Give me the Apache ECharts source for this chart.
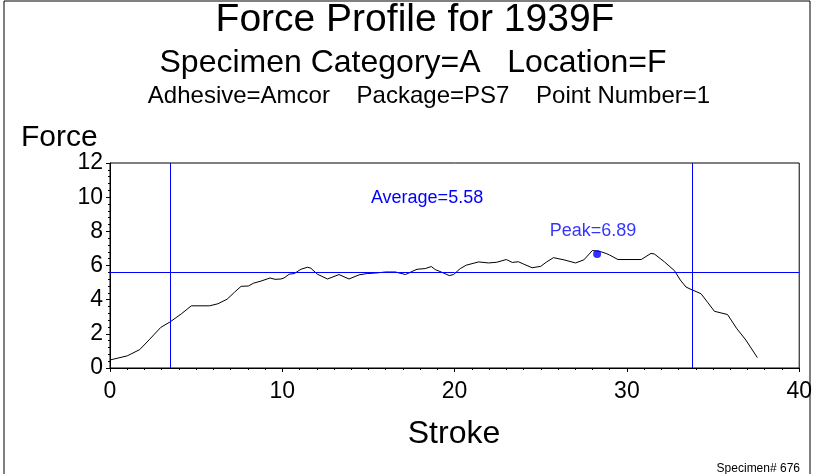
<!DOCTYPE html>
<html>
<head>
<meta charset="utf-8">
<title>Force Profile for 1939F</title>
<script src="https://cdn.jsdelivr.net/npm/echarts@6/dist/echarts.min.js"></script>
<style>
  html, body { margin: 0; padding: 0; background: #fff; }
  #chart { width: 815px; height: 474px; }
</style>
</head>
<body>
<div id="chart"></div>
<script>
// stroke / force trace
const strokeValues = [0, 1.0, 1.73, 2.31, 2.95, 3.49, 4.14, 4.72, 5.78, 6.26,
  6.8, 7.23, 7.61, 8.03, 8.34, 8.77, 9.29, 9.58, 9.92, 10.1,
  10.4, 10.7, 11.08, 11.46, 11.66, 12.04, 12.62, 13.29, 13.87, 14.45,
  14.93, 15.41, 16.0, 16.57, 17.15, 17.53, 17.82, 18.3, 18.65, 18.88,
  19.27, 19.69, 19.94, 20.33, 20.68, 21.39, 21.97, 22.45, 23.0, 23.35,
  23.7, 23.99, 24.5, 25.0, 25.34, 25.74, 26.35, 27.02, 27.5, 28.0,
  28.51, 28.8, 29.0, 29.48, 30.83, 31.4, 31.6, 32.18, 32.76, 33.1,
  33.43, 33.72, 34.3, 34.68, 35.08, 35.84, 36.36, 36.9, 37.57]
const forceValues = [0.47, 0.71, 1.08, 1.69, 2.38, 2.70, 3.17, 3.64, 3.64, 3.76,
  4.03, 4.44, 4.78, 4.80, 4.97, 5.09, 5.27, 5.19, 5.21, 5.27,
  5.49, 5.53, 5.78, 5.90, 5.84, 5.49, 5.21, 5.47, 5.21, 5.45,
  5.53, 5.56, 5.62, 5.62, 5.47, 5.65, 5.78, 5.82, 5.94, 5.76,
  5.60, 5.41, 5.47, 5.82, 6.02, 6.21, 6.15, 6.19, 6.35, 6.18,
  6.22, 6.09, 5.87, 5.95, 6.21, 6.46, 6.33, 6.15, 6.33, 6.88,
  6.80, 6.70, 6.61, 6.35, 6.35, 6.71, 6.67, 6.21, 5.70, 5.15,
  4.74, 4.60, 4.35, 3.85, 3.32, 3.13, 2.33, 1.64, 0.61]

// reference lines: start / end of averaging window, average force
const windowStrokes = [3.51, 33.8]
const averageForce = 5.58
const peakPoint = [28.27, 6.67]
const peakLabel = 'Peak=6.89'
const averageLabel = 'Average=5.58'
const averageLabelAt = [18.4, 9.97]

const xTicks = [0, 10, 20, 30, 40]
const yTicks = [0, 2, 4, 6, 8, 10, 12]

const FONT = "'Liberation Sans', Arial, sans-serif"
const BLUE = '#0000ff'

const chart = echarts.init(document.getElementById('chart'))

const blueLine = { color: BLUE, width: 1, type: 'solid' }

chart.setOption({
  animation: false,
  backgroundColor: '#fff',
  textStyle: { fontFamily: FONT },
  grid: {
    left: 110, right: 13, top: 163, bottom: 106,
    show: true, borderColor: '#000', borderWidth: 1
  },
  graphic: [
    // outer frame
    { type: 'rect', shape: { x: 4, y: 1, width: 806, height: 480 },
      style: { fill: 'none', stroke: '#000', lineWidth: 1 }, silent: true },
    { type: 'text', x: 415, y: 20,
      style: { text: 'Force Profile for 1939F', font: '39px ' + FONT, fill: '#000',
        align: 'center', verticalAlign: 'middle' } },
    { type: 'text', x: 413, y: 63,
      style: { text: 'Specimen Category=A   Location=F', font: '32px ' + FONT, fill: '#000',
        align: 'center', verticalAlign: 'middle' } },
    { type: 'text', x: 429, y: 96,
      style: { text: 'Adhesive=Amcor    Package=PS7    Point Number=1', font: '24px ' + FONT, fill: '#000',
        align: 'center', verticalAlign: 'middle' } },
    { type: 'text', x: 21, y: 138,
      style: { text: 'Force', font: '30px ' + FONT, fill: '#000', verticalAlign: 'middle' } },
    { type: 'text', x: 454, y: 434,
      style: { text: 'Stroke', font: '32px ' + FONT, fill: '#000', align: 'center', verticalAlign: 'middle' } },
    { type: 'text', x: 800, y: 469,
      style: { text: 'Specimen# 676', font: '12px ' + FONT, fill: '#000', align: 'right', verticalAlign: 'middle' } }
  ],
  xAxis: {
    type: 'value', min: 0, max: 40, interval: 10,
    axisLine: { show: true, lineStyle: { color: '#000', width: 1 } },
    axisTick: { show: true, length: 4, inside: false, lineStyle: { color: '#000' },
      customValues: xTicks },
    minorTick: { show: true, splitNumber: 10, length: 2, lineStyle: { color: '#000' } },
    axisLabel: { color: '#000', fontSize: 23, margin: 12, fontFamily: FONT, customValues: xTicks },
    splitLine: { show: false }
  },
  yAxis: {
    type: 'value', min: 0, max: 12, interval: 2,
    axisLine: { show: true, lineStyle: { color: '#000', width: 1 } },
    axisTick: { show: true, length: 4, lineStyle: { color: '#000' }, customValues: yTicks },
    minorTick: { show: true, splitNumber: 5, length: 2, lineStyle: { color: '#000' } },
    axisLabel: { color: '#000', fontSize: 23, margin: 7, fontFamily: FONT, customValues: yTicks },
    splitLine: { show: false }
  },
  series: [
    {
      name: 'Force',
      type: 'line',
      data: strokeValues.map((s, i) => [s, forceValues[i]]),
      showSymbol: false,
      symbol: 'none',
      lineStyle: { color: '#000', width: 1 },
      z: 3,
      markLine: {
        silent: true,
        symbol: 'none',
        label: { show: false },
        lineStyle: blueLine,
        data: [
          { xAxis: windowStrokes[0], lineStyle: blueLine },
          { xAxis: windowStrokes[1], lineStyle: blueLine },
          { yAxis: averageForce, lineStyle: blueLine }
        ]
      },
      markPoint: {
        silent: true,
        symbol: 'circle',
        symbolSize: 0,
        label: { show: true, position: 'inside', color: BLUE, fontSize: 18, fontFamily: FONT,
          formatter: averageLabel },
        data: [{ coord: averageLabelAt }]
      }
    },
    {
      name: 'Peak',
      type: 'scatter',
      data: [peakPoint],
      symbol: 'circle',
      symbolSize: 8,
      itemStyle: { color: BLUE },
      z: 4,
      label: { show: true, position: 'top', distance: 10, offset: [-4, 0],
        color: BLUE, fontSize: 18, fontFamily: FONT, formatter: peakLabel }
    }
  ]
})
</script>
</body>
</html>
